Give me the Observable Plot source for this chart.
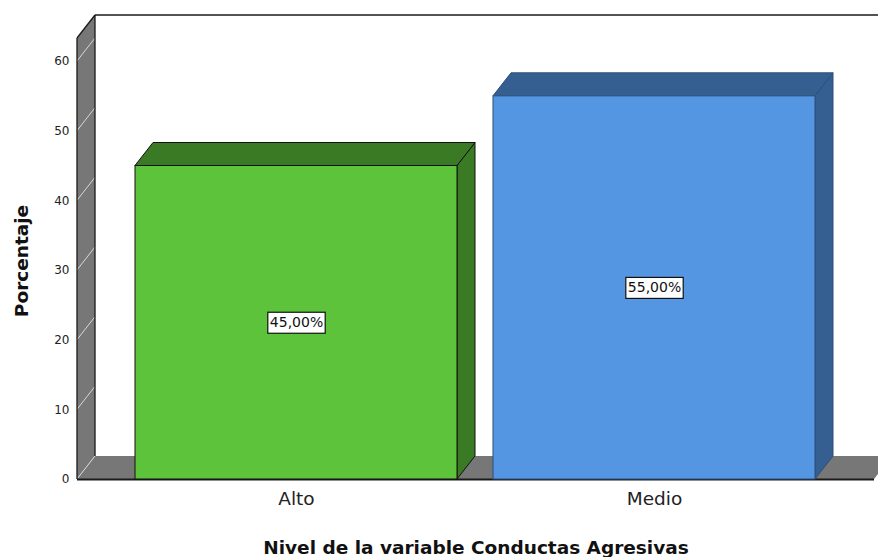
<!DOCTYPE html>
<html><head><meta charset="utf-8">
<script src="https://cdn.jsdelivr.net/npm/d3@7"></script>
<script src="https://cdn.jsdelivr.net/npm/@observablehq/plot@0.6"></script>
<style>
body{margin:0;background:#fff;}
#chart svg{display:block;}
</style>
</head><body><div id="chart"></div>
<script>
const categories = ["Alto", "Medio"];
const percentages = [45, 55];
const valueLabels = ["45,00%", "55,00%"];
const yTicks = [0, 10, 20, 30, 40, 50, 60];
const frontColors = ["#5dc33a", "#5596e3"];
const darkColors = ["#3b7a24", "#355f91"];
const edgeColors = ["#111", "#2c4f7a"];
const xTitle = "Nivel de la variable Conductas Agresivas";
const yTitle = "Porcentaje";

const rows = categories.map((c, i) => ({cat: c, pct: percentages[i], label: valueLabels[i], front: frontColors[i], dark: darkColors[i], edge: edgeColors[i]}));

const DX = 18, DY = -23; // depth offset in pixels
const font = "DejaVu Sans, sans-serif";

function poly(pts) { return "M" + pts.map(p => p.join(",")).join("L") + "Z"; }

// 3D walls: left wall + floor + back wall edge, positioned through the y scale
function wallsRender(index, scales, values, dims) {
  const g = d3.create("svg:g");
  const L = dims.marginLeft, R = dims.width - dims.marginRight;
  const y0 = scales.y(0), top = dims.marginTop;
  g.append("path").attr("d", poly([[L, y0], [L, top], [L + DX, top + DY], [L + DX, y0 + DY]]))
    .attr("fill", "#777").attr("stroke", "none");
  g.append("path").attr("d", poly([[L, y0], [L + DX, y0 + DY], [R + DX, y0 + DY], [R, y0]]))
    .attr("fill", "#777").attr("stroke", "none");
  for (const v of yTicks) {
    const y = scales.y(v);
    g.append("line").attr("x1", L).attr("y1", y).attr("x2", L + DX).attr("y2", y + DY)
      .attr("stroke", "#d8d8d8").attr("stroke-width", 1);
  }
  const edge = (x1, y1, x2, y2, w) => g.append("line").attr("x1", x1).attr("y1", y1).attr("x2", x2).attr("y2", y2)
    .attr("stroke", "#1a1a1a").attr("stroke-width", w || 1.3);
  edge(L, top, L, y0);
  edge(L + DX, top + DY, L + DX, y0 + DY);
  edge(L, top, L + DX, top + DY);
  edge(L + DX, top + DY, dims.width + 10, top + DY);
  edge(L, y0 + 0.5, R, y0 + 0.5, 2);
  return g.node();
}

// 3D bars built from the rects Plot computes
function bars3dRender(index, scales, values, dims, context, next) {
  const base = next(index, scales, values, dims, context);
  const g = d3.create("svg:g");
  const rects = Array.from(base.querySelectorAll("rect"));
  rects.forEach((r, k) => {
    const d = rows[index[k]];
    const x = +r.getAttribute("x"), y = +r.getAttribute("y");
    const w = +r.getAttribute("width"), h = +r.getAttribute("height");
    const x2 = x + w, y2 = y + h;
    g.append("path").attr("d", poly([[x2, y], [x2 + DX, y + DY], [x2 + DX, y2 + DY], [x2, y2]]))
      .attr("fill", d.dark).attr("stroke", d.edge).attr("stroke-width", 1).attr("stroke-linejoin", "round");
    g.append("path").attr("d", poly([[x, y], [x + DX, y + DY], [x2 + DX, y + DY], [x2, y]]))
      .attr("fill", d.dark).attr("stroke", d.edge).attr("stroke-width", 1).attr("stroke-linejoin", "round");
    g.append("rect").attr("x", x).attr("y", y).attr("width", w).attr("height", h)
      .attr("fill", d.front).attr("stroke", d.edge).attr("stroke-width", 1);
  });
  if (base.getAttribute("transform")) g.attr("transform", base.getAttribute("transform"));
  return g.node();
}

// white label boxes behind the value texts
const LABEL_FS = 14;
const measureCtx = document.createElement("canvas").getContext("2d");
function labelRender(index, scales, values, dims, context, next) {
  const base = next(index, scales, values, dims, context);
  measureCtx.font = `${LABEL_FS}px ${font}`;
  const texts = Array.from(base.querySelectorAll("text"));
  texts.forEach((t, k) => {
    const i = index[k];
    const x = values.x[i], y = values.y[i];
    const tw = measureCtx.measureText(rows[i].label).width;
    const bw = tw + 4, bh = LABEL_FS + 7;
    const r = document.createElementNS("http://www.w3.org/2000/svg", "rect");
    r.setAttribute("x", x - bw / 2);
    r.setAttribute("y", y - bh / 2);
    r.setAttribute("width", bw);
    r.setAttribute("height", bh);
    r.setAttribute("fill", "#fff");
    r.setAttribute("stroke", "#111");
    r.setAttribute("stroke-width", 1.2);
    t.parentNode.insertBefore(r, t);
  });
  return base;
}

const chart = Plot.plot({
  width: 878,
  height: 557,
  marginLeft: 77,
  marginRight: 4,
  marginTop: 38,
  marginBottom: 78,
  style: {fontFamily: font, background: "#fff", overflow: "visible"},
  x: {domain: categories, paddingInner: 0.1, paddingOuter: 0.162, label: null},
  y: {domain: [0, 63.3], label: null},
  marks: [
    Plot.frame({stroke: "none", render: wallsRender}),
    Plot.barY(rows, {x: "cat", y: "pct", fill: "front", render: bars3dRender}),
    Plot.text(rows, {x: "cat", y: d => d.pct / 2, text: "label", fontSize: LABEL_FS, fill: "#111", render: labelRender}),
    Plot.axisY({ticks: yTicks, tickSize: 0, tickPadding: 8, fontSize: 12, fill: "#222", label: null}),
    Plot.axisX({tickSize: 0, tickPadding: 12, fontSize: 18.5, fill: "#222", label: null}),
    Plot.text([xTitle], {frameAnchor: "bottom", dy: 69, text: d => d, fontSize: 18.5, fontWeight: "bold", fill: "#111", lineAnchor: "middle"}),
    Plot.text([yTitle], {frameAnchor: "left", dx: -55, dy: 2, rotate: -90, textAnchor: "middle", text: d => d, fontSize: 18.5, fontWeight: "bold", fill: "#111", lineAnchor: "middle"})
  ]
});
document.getElementById("chart").append(chart);
</script>
</body></html>
